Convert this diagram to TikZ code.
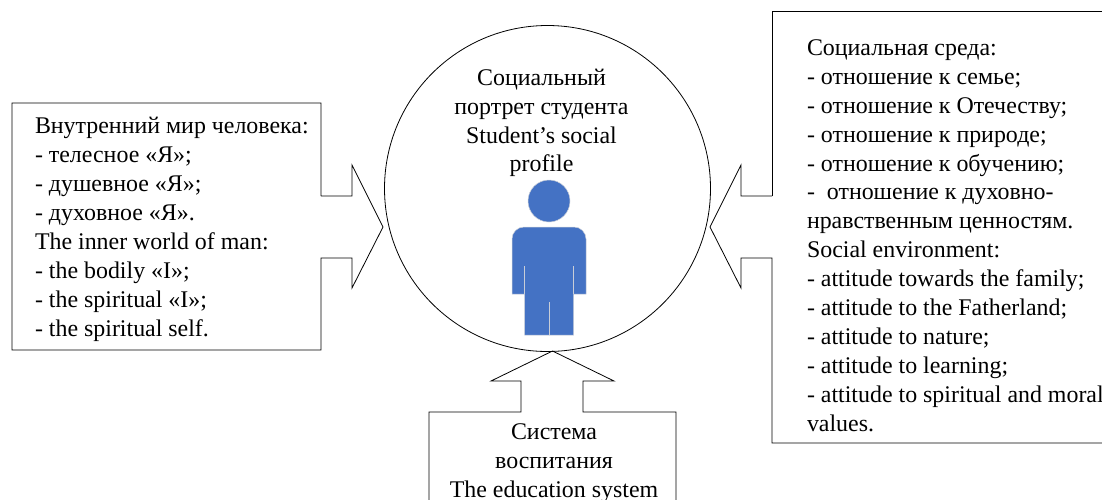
\documentclass[tikz,border=0pt]{standalone}
\usepackage{fontspec}
\setmainfont{Liberation Serif}
\usetikzlibrary{calc}

\begin{document}
\begin{tikzpicture}[x=1pt,y=-1pt,every node/.style={outer sep=0pt,inner sep=0pt}]
\tikzstyle{outline}=[line width=0.8pt,line join=miter]
\tikzstyle{caption}=[font=\fontsize{23.9}{28.9}\selectfont,align=left]
\tikzstyle{person}=[fill={rgb,255:red,68;green,114;blue,196},draw={rgb,255:red,200;green,205;blue,215},line width=0.5pt]
\useasboundingbox (0,0) rectangle (1102,499);

\node (portrait) [draw, outline, circle, minimum size=326pt] at (547.5,188.5) {};

%left box and its arrow
\coordinate (inner) at (321,227);
\coordinate (innertip) at (383,227);
\draw [outline] ($(inner)+(0,-31)$) -- (321,103) -- (12,103) -- (12,350) -- (321,350) -- ($(inner)+(0,31)$) -- ++(31,0) -- ++(0,30) -- (innertip) -- (352,165) -- ++(0,31) -- ($(inner)+(0,-31)$);
\node (innertext) [caption, anchor=west] at (35,229.5) {Внутренний мир человека:\\- телесное «Я»;\\- душевное «Я»;\\- духовное «Я».\\The inner world of man:\\- the bodily «I»;\\- the spiritual «I»;\\- the spiritual self.};

%right box, runs off the page
\coordinate (social) at (772,227);
\coordinate (socialtip) at (710,227);
\draw [outline] ($(social)+(0,-31)$) -- (772,11) -- (1104,11);
\draw [outline] (1104,443) -- (772,443) -- ($(social)+(0,31)$) -- ++(-31,0) -- ++(0,30) -- (socialtip) -- (741,165) -- ++(0,31) -- ($(social)+(0,-31)$);
\node (socialtext) [caption, anchor=west] at (807,235.5) {Социальная среда:\\- отношение к семье;\\- отношение к Отечеству;\\- отношение к природе;\\- отношение к обучению;\\-\ \ отношение к духовно-\\нравственным ценностям.\\Social environment:\\- attitude towards the family;\\- attitude to the Fatherland;\\- attitude to nature;\\- attitude to learning;\\- attitude to spiritual and moral\\values.};

%bottom box, runs off the page
\coordinate (education) at (552,412);
\coordinate (educationtip) at (552.5,351);
\draw [outline] (429,501) -- (429,412) -- ($(education)+(-31,0)$) -- ++(0,-31) -- ++(-30,0) -- (educationtip) -- (614,381) -- ++(-31,0) -- ++(0,31) -- (676,412) -- (676,501);
\node (educationtext) [caption, align=center] at (554,463) {Система\\воспитания\\The education system};

\node (portraittext) [caption, align=center] at (541.5,123) {Социальный\\портрет студента\\Student's social\\profile};

%person
\node (head) [person, circle, minimum size=42pt] at (549,201) {};
\draw [person] (512,294) -- (512,239) arc (180:270:12) -- (574,227) arc (270:360:12) -- (586,294) -- (573.5,294) -- (573.5,335) -- (524.5,335) -- (524.5,294) -- cycle;
\draw [person] (524.5,266) -- (524.5,294) (573.5,266) -- (573.5,294) (549,302) -- (549,335);
\end{tikzpicture}
\end{document}
